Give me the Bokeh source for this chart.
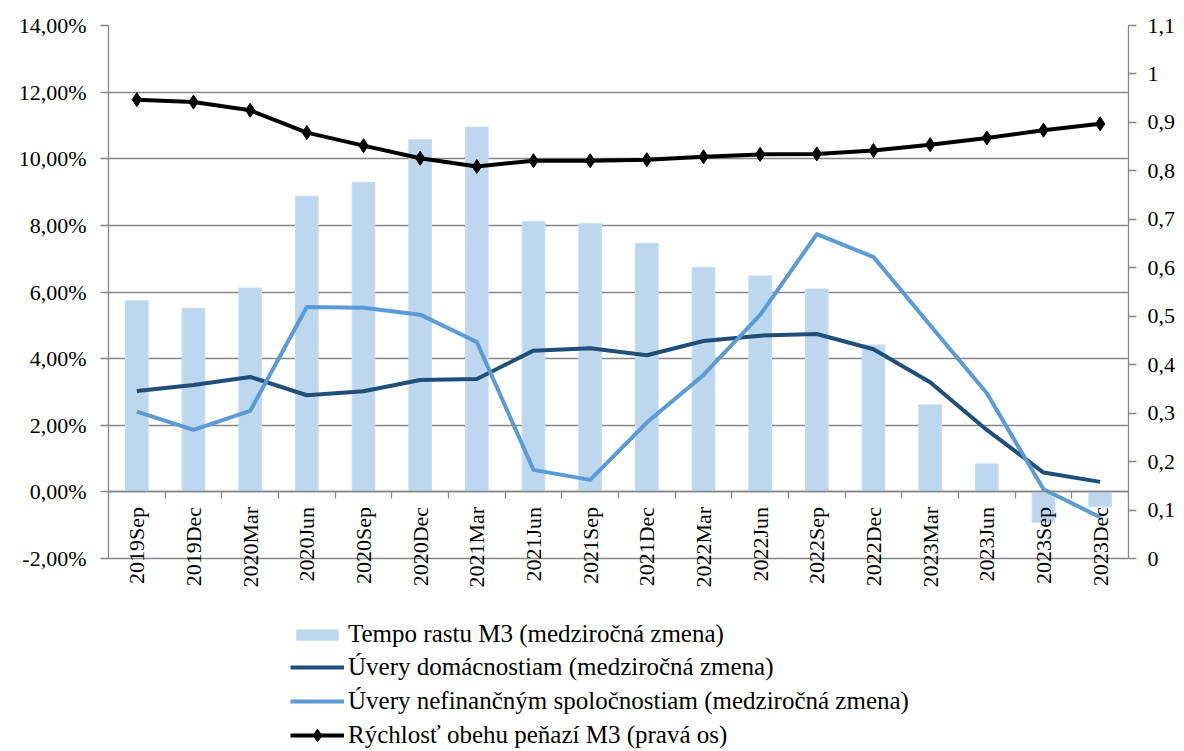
import math
from bokeh.plotting import figure
from bokeh.models import (ColumnDataSource, Range1d, LinearAxis, FixedTicker,
                          LabelSet, Legend, LegendItem)
from bokeh.embed import file_html
from bokeh.resources import INLINE

categories = ["2019Sep", "2019Dec", "2020Mar", "2020Jun", "2020Sep", "2020Dec",
              "2021Mar", "2021Jun", "2021Sep", "2021Dec", "2022Mar", "2022Jun",
              "2022Sep", "2022Dec", "2023Mar", "2023Jun", "2023Sep", "2023Dec"]
m3_growth = [5.74, 5.51, 6.12, 8.87, 9.29, 10.57, 10.95, 8.12, 8.05, 7.46, 6.74, 6.48,
             6.09, 4.41, 2.61, 0.84, -0.91, -0.45]
households = [3.03, 3.21, 3.45, 2.90, 3.02, 3.36, 3.39, 4.24, 4.31, 4.10, 4.53, 4.69,
              4.74, 4.28, 3.29, 1.86, 0.58, 0.30]
corporates = [2.41, 1.86, 2.43, 5.55, 5.53, 5.32, 4.50, 0.66, 0.36, 2.08, 3.51, 5.31,
              7.74, 7.05, 5.00, 2.96, 0.08, -0.76]
velocity = [0.947, 0.942, 0.925, 0.879, 0.852, 0.826, 0.809, 0.821, 0.821, 0.823, 0.829,
            0.834, 0.835, 0.842, 0.854, 0.868, 0.884, 0.897]

left_ticks = [-2, 0, 2, 4, 6, 8, 10, 12, 14]
right_ticks = [round(i * 0.1, 1) for i in range(12)]

legend_labels = ["Tempo rastu M3 (medziročná zmena)",
                 "Úvery domácnostiam (medziročná zmena)",
                 "Úvery nefinančným spoločnostiam (medziročná zmena)",
                 "Rýchlosť obehu peňazí M3 (pravá os)"]

FONT = "Liberation Serif"
FS = "22px"
LEG_FS = "25px"
GRAY = "#878787"

# layout: the chart area (-2 .. 14 %) is 533 px tall; the frame continues below it
# so that the rotated category labels and the legend can live inside the frame.
L_MIN, L_MAX = -2, 14
R_MAX = 1.1
PLOT_H = 533
FRAME_H = 726
lo = L_MAX - FRAME_H * (L_MAX - L_MIN) / PLOT_H
r_lo = (lo - L_MIN) * R_MAX / (L_MAX - L_MIN)

n = len(categories)
pos = [i + 0.5 for i in range(n)]  # category slot centres
src = ColumnDataSource(dict(x=pos, cat=categories, m3=m3_growth, hh=households,
                            nfc=corporates, vel=velocity, zero=[0] * n))

p = figure(frame_width=1020, frame_height=FRAME_H, output_backend="svg",
           toolbar_location=None,
           x_range=Range1d(0, n), y_range=Range1d(lo, L_MAX),
           x_axis_location=None, y_axis_location="left",
           min_border_left=108, min_border_right=10, min_border_top=25,
           min_border_bottom=0)
p.outline_line_color = None
p.xgrid.grid_line_color = None
p.ygrid.grid_line_color = GRAY
p.ygrid.grid_line_width = 1.3
p.ygrid.ticker = FixedTicker(ticks=left_ticks)

ya = p.yaxis[0]
ya.ticker = FixedTicker(ticks=left_ticks)
ya.bounds = (L_MIN, L_MAX)
ya.major_label_overrides = {t: f"{t:.2f}".replace(".", ",") + "%" for t in left_ticks}
ya.axis_line_color = GRAY
ya.axis_line_width = 1.3
ya.major_tick_line_color = GRAY
ya.major_tick_line_width = 1.3
ya.major_tick_out = 8
ya.major_tick_in = 0
ya.minor_tick_line_color = None
ya.major_label_text_font = FONT
ya.major_label_text_font_size = FS
ya.major_label_text_color = "black"
ya.major_label_standoff = 14

p.extra_y_ranges = {"right": Range1d(r_lo, R_MAX)}
ra = LinearAxis(y_range_name="right", ticker=FixedTicker(ticks=right_ticks))
ra.bounds = (0, R_MAX)
ra.major_label_overrides = {t: (f"{t:g}").replace(".", ",") for t in right_ticks}
ra.axis_line_color = GRAY
ra.axis_line_width = 1.3
ra.major_tick_line_color = GRAY
ra.major_tick_line_width = 1.3
ra.major_tick_out = 8
ra.major_tick_in = 0
ra.minor_tick_line_color = None
ra.major_label_text_font = FONT
ra.major_label_text_font_size = FS
ra.major_label_text_color = "black"
ra.major_label_standoff = 11
p.add_layout(ra, "right")

# category axis line on the zero line, ticks at slot boundaries pointing down
xa = LinearAxis(fixed_location=0, ticker=FixedTicker(ticks=list(range(n + 1))))
xa.axis_line_color = GRAY
xa.axis_line_width = 1.3
xa.major_tick_line_color = GRAY
xa.major_tick_line_width = 1.3
xa.major_tick_out = 0
xa.major_tick_in = 7
xa.minor_tick_line_color = None
xa.major_label_text_font_size = "0px"
xa.major_label_text_color = None
xa.major_label_standoff = 0
p.add_layout(xa, "above")

bars = p.vbar(x="x", top="m3", bottom="zero", width=0.4, source=src,
              fill_color="#BDD7EE", line_color="#C6DCF0", line_width=1)
l_hh = p.line(x="x", y="hh", source=src, line_color="#1F4E79", line_width=4,
              line_join="round")
l_nfc = p.line(x="x", y="nfc", source=src, line_color="#5B9BD5", line_width=4,
               line_join="round")
l_vel = p.line(x="x", y="vel", source=src, y_range_name="right", line_color="black",
               line_width=4, line_join="round")
m_vel = p.scatter(x="x", y="vel", source=src, y_range_name="right", marker="diamond",
                  size=14, fill_color="black", line_color="black", line_width=1)

labels = LabelSet(x="x", y="zero", text="cat", source=src, angle=math.pi / 2,
                  text_align="right", text_baseline="middle", y_offset=-15,
                  text_font=FONT, text_font_size=FS, text_color="black")
p.add_layout(labels)

leg_style = dict(orientation="vertical", label_text_font=FONT,
                 label_text_font_size=LEG_FS, label_text_color="black",
                 label_height=30, padding=0, margin=0, border_line_color=None,
                 background_fill_alpha=0)

legend_a = Legend(items=[LegendItem(label=legend_labels[0], renderers=[bars])],
                  location=(183, 102), glyph_width=52, glyph_height=13,
                  label_standoff=5, spacing=0, **leg_style)
legend_b = Legend(items=[LegendItem(label=legend_labels[1], renderers=[l_hh]),
                         LegendItem(label=legend_labels[2], renderers=[l_nfc]),
                         LegendItem(label=legend_labels[3], renderers=[l_vel, m_vel])],
                  location=(182, 0), glyph_width=54, glyph_height=32,
                  label_standoff=4, spacing=2, **leg_style)
p.add_layout(legend_a, "center")
p.add_layout(legend_b, "center")

open("out.html", "w").write(file_html(p, INLINE))
